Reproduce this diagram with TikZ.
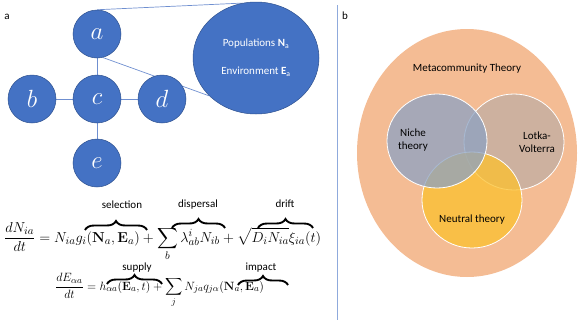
\documentclass[tikz,border=0pt]{standalone}
\usepackage[no-math]{fontspec}
\setsansfont{Carlito}
\usepackage{amsmath}
\usepackage{tikz}
\usetikzlibrary{positioning, shapes.geometric, decorations.pathreplacing, backgrounds, calc}

\definecolor{offblue}{HTML}{4472C4}
\definecolor{offdark}{HTML}{2F528F}
\definecolor{edgeblue}{HTML}{6F8FD0}
\definecolor{sepblue}{HTML}{8FAADC}
\definecolor{metafill}{HTML}{F4BC94}
\definecolor{nichefill}{HTML}{8CA2C3}
\definecolor{lotkafill}{HTML}{C0AEA3}
\definecolor{neutralfill}{HTML}{FCC12E}

\begin{document}
\begin{tikzpicture}[
    x=1pt, y=-1pt,
    font=\sffamily\fontsize{11}{13}\selectfont,
    site/.style={draw=offdark, line width=0.5pt, circle, fill=offblue, text=white,
                 minimum size=48pt, inner sep=0pt, font=\fontsize{33}{33}\selectfont},
    link/.style={draw=edgeblue, line width=0.7pt},
    patch/.style={draw=offdark, line width=0.5pt, ellipse, fill=offblue, text=white,
                  minimum width=126pt, minimum height=112pt, inner sep=0pt, align=center},
    eq/.style={anchor=base west, inner sep=0pt},
    term/.style={draw, line width=1.9pt, decorate,
                 decoration={brace, amplitude=9pt, aspect=0.5}},
    termlab/.style={anchor=base, inner sep=0pt},
    panel/.style={anchor=base, inner sep=0pt},
    theory/.style={draw=white, line width=0.8pt, fill opacity=0.75},
    vlab/.style={align=center, inner sep=0pt},
  ]
\useasboundingbox (0,0) rectangle (581,327);

% panel a
\node[panel] (la) at (7,19) {a};
\node[site] (a) at (97,34) {$a$};
\node[site] (b) at (32,99) {$b$};
\node[site] (c) at (97,99) {$c$};
\node[site] (d) at (162,99) {$d$};
\node[site] (e) at (97,163) {$e$};
\node[patch] (pop) at (256,58)
    {Populations \textbf{N}\textsubscript{a}\\[15pt]Environment \textbf{E}\textsubscript{a}};

\begin{pgfonlayer}{background}
\path[link] (a.north) -- (pop.104);
\path[link] (a.-76) -- (pop.219);
\path[link] (a) -- (c);
\path[link] (b) -- (c);
\path[link] (c) -- (d);
\path[link] (c) -- (e);
\end{pgfonlayer}

% equations
\node[eq, font=\fontsize{15.6}{18}\selectfont] (eqN) at (4,242)
    {$\displaystyle \frac{dN_{ia}}{dt} = N_{ia}g_i(\mathbf{N}_a,\mathbf{E}_a) + \sum_b \lambda^i_{ab} N_{ib} + \sqrt{D_i N_{ia}}\xi_{ia}(t)$};
\node[eq, font=\fontsize{13.2}{15}\selectfont] (eqE) at (55,290)
    {$\displaystyle \frac{dE_{\alpha a}}{dt} = h_{\alpha a}(\mathbf{E}_a,t) + \sum_j N_{ja}q_{j\alpha}(\mathbf{N}_a,\mathbf{E}_a)$};

\draw[term] (85,230) -- (147,230);
\draw[term] (172,228) -- (225,228);
\draw[term] (258,228) -- (313,228);
\draw[term] (107,284) -- (162,284);
\draw[term] (238,285) -- (288,285);
\node[termlab] (selection) at (122,208) {selection};
\node[termlab] (dispersal) at (198,207) {dispersal};
\node[termlab] (drift) at (285,207) {drift};
\node[termlab] (supply) at (137,270) {supply};
\node[termlab] (impact) at (261,270) {impact};

% divider
\coordinate (septop) at (337,5);
\coordinate (sepbot) at (337,320);
\draw[sepblue, line width=0.8pt] (septop) -- (sepbot);

% panel b
\node[panel] (lb) at (345,19) {b};
\fill[metafill] (467,153) ellipse [x radius=110, y radius=124];
\node (meta) at (467,69) {Metacommunity Theory};
\path[theory, fill=lotkafill] (514,142) ellipse [x radius=50, y radius=48];
\path[theory, fill=neutralfill] (472,200) ellipse [x radius=50, y radius=48];
\path[theory, fill=nichefill] (437,141) ellipse [x radius=50, y radius=47];
\node[vlab] (niche) at (413,140) {Niche\\theory};
\node[vlab] (lotka) at (537,142) {Lotka-\\Volterra};
\node[vlab] (neutral) at (472,220) {Neutral theory};
\end{tikzpicture}
\end{document}
